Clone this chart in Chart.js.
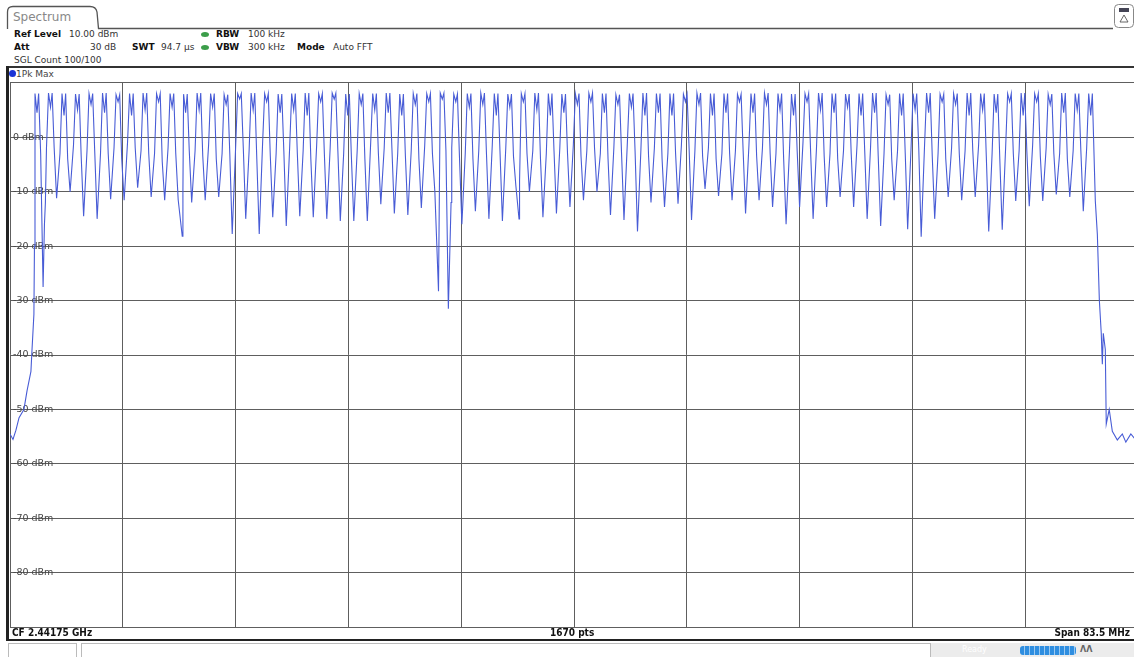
<!DOCTYPE html>
<html>
<head>
<meta charset="utf-8">
<script src="https://cdn.jsdelivr.net/npm/chart.js@4.4.1/dist/chart.umd.min.js"></script>
<style>
  html, body { margin: 0; padding: 0; background: #fff; overflow: hidden; width: 1134px; height: 657px; }
  body { position: relative; font-family: "DejaVu Sans", Verdana, sans-serif; }
  .t { position: absolute; font-size: 9px; line-height: 12px; color: #333; white-space: nowrap; }
  .b { font-weight: bold; color: #111; }
  .hl { position: absolute; background: #333; }
  .dot { position: absolute; width: 8px; height: 5px; border-radius: 50%; background: #3c9e4a; }
  .foot { position: absolute; font-family: "Liberation Sans Narrow", "DejaVu Sans Condensed", "Arial Narrow", sans-serif;
          font-stretch: condensed; font-weight: bold; font-size: 10px; line-height: 12px; color: #111; white-space: nowrap; }
  #wrap { position: absolute; left: 1px; top: 74px; width: 1140px; height: 562px; }
</style>
</head>
<body>

<!-- Reiter "Spectrum" -->
<svg style="position:absolute;left:0;top:0" width="1134" height="30">
  <path d="M7.5 29 L7.5 12 Q7.5 6.5 13 6.5 L90 6.5 Q96 6.5 97 12 L98.5 28.5 L1113 28.5" fill="none" stroke="#555" stroke-width="1.3"/>
  <rect x="1114.5" y="4.5" width="19" height="23" rx="4" fill="#fff" stroke="#888" stroke-width="1"/>
  <rect x="1119" y="8" width="10" height="4" fill="#445"/>
  <path d="M1124 15 L1128 22 L1120 22 Z" fill="none" stroke="#555" stroke-width="0.9"/>
</svg>
<div class="t" style="left:13px;top:10px;font-size:12px;line-height:15px;color:#888">Spectrum</div>

<!-- Einstellungen -->
<div class="t b" style="left:14px;top:28px">Ref Level</div>
<div class="t" style="left:69px;top:28px">10.00 dBm</div>
<div class="dot" style="left:201px;top:32px"></div>
<div class="t b" style="left:216px;top:28px">RBW</div>
<div class="t" style="left:248px;top:28px">100 kHz</div>

<div class="t b" style="left:14px;top:41px">Att</div>
<div class="t" style="left:90px;top:41px">30 dB</div>
<div class="t b" style="left:132px;top:41px">SWT</div>
<div class="t" style="left:161px;top:41px">94.7 µs</div>
<div class="dot" style="left:201px;top:45px"></div>
<div class="t b" style="left:216px;top:41px">VBW</div>
<div class="t" style="left:248px;top:41px">300 kHz</div>
<div class="t b" style="left:297px;top:41px">Mode</div>
<div class="t" style="left:333px;top:41px">Auto FFT</div>

<div class="t" style="left:14px;top:54px">SGL Count 100/100</div>

<div class="hl" style="left:7px;top:66px;width:1127px;height:1.5px"></div>
<div style="position:absolute;left:9px;top:70px;width:7px;height:7px;border-radius:50%;background:#1a33d6"></div>
<div class="t" style="left:16px;top:68px;color:#444">1Pk Max</div>

<div id="wrap"><canvas id="spectrum" width="1140" height="562"></canvas></div>

<!-- Rahmen -->
<div class="hl" style="left:6px;top:66px;width:3px;height:575px;background:#222"></div>
<div class="foot" style="left:12px;top:627px">CF 2.44175 GHz</div>
<div class="foot" style="left:550px;top:627px">1670 pts</div>
<div class="foot" style="right:4px;top:627px">Span 83.5 MHz</div>
<div class="hl" style="left:6px;top:639px;width:1128px;height:2px;background:#222"></div>

<!-- Statuszeile -->
<div style="position:absolute;left:8px;top:643px;width:67px;height:16px;border:1px solid #bbb;border-bottom:none"></div>
<div style="position:absolute;left:81px;top:643px;width:848px;height:16px;border:1px solid #bbb;border-bottom:none"></div>
<div style="position:absolute;left:931px;top:643px;width:203px;height:14px;background:#ececec"></div>
<div class="t" style="left:962px;top:644px;color:#fff;font-size:8px">Ready</div>
<div style="position:absolute;left:1020px;top:646px;width:56px;height:9px;border-radius:3px;
     background:repeating-linear-gradient(90deg,#2f8ee0 0 4px,#9cc9f0 4px 5px)"></div>
<div class="t b" style="left:1080px;top:644px;font-size:8px;color:#666">ΛΛ</div>

<script>
// Kanalmitten (MHz), Spitzen, Schultern, Einbrueche zwischen den Kanaelen
const channelMHz = [
  2402, 2403, 2404, 2405, 2406, 2407, 2408, 2409, 2410, 2411,
  2412, 2413, 2414, 2415, 2416, 2417, 2418, 2419, 2420, 2421,
  2422, 2423, 2424, 2425, 2426, 2427, 2428, 2429, 2430, 2431,
  2432, 2433, 2434, 2435, 2436, 2437, 2438, 2439, 2440, 2441,
  2442, 2443, 2444, 2445, 2446, 2447, 2448, 2449, 2450, 2451,
  2452, 2453, 2454, 2455, 2456, 2457, 2458, 2459, 2460, 2461,
  2462, 2463, 2464, 2465, 2466, 2467, 2468, 2469, 2470, 2471,
  2472, 2473, 2474, 2475, 2476, 2477, 2478, 2479, 2480
];
const peakDbm = [
  8.0, 8.1, 8.0, 7.9, 8.0, 8.1, 7.8, 8.0, 8.1, 8.0,
  8.0, 7.9, 8.1, 8.0, 7.8, 8.0, 8.1, 8.0, 7.9, 8.0,
  8.1, 8.0, 8.1, 7.9, 8.0, 8.0, 8.1, 7.9, 8.0, 8.0,
  8.1, 7.9, 8.0, 8.1, 8.0, 7.9, 8.0, 8.1, 8.0, 7.9,
  8.0, 8.1, 8.0, 7.8, 8.0, 8.1, 8.0, 8.0, 7.9, 8.1,
  8.0, 8.0, 7.9, 8.0, 8.1, 8.0, 7.9, 8.0, 8.1, 8.0,
  7.9, 8.0, 8.1, 7.8, 8.0, 8.0, 8.1, 7.9, 8.0, 8.1,
  8.0, 7.9, 8.0, 8.1, 8.0, 7.9, 8.1, 8.0, 8.0
];
const notchDbm = [
  4.5, 5.5, 4.0, 5.0, 6.0, 4.5, 6.5, 4.0, 5.0, 6.5,
  5.5, 4.5, 5.0, 5.5, 6.0, 7.0, 5.0, 6.5, 4.5, 5.0,
  4.0, 6.5, 7.0, 4.0, 6.0, 5.0, 4.5, 4.0, 6.0, 6.5,
  7.0, 6.5, 5.5, 6.0, 4.0, 5.5, 6.5, 5.0, 4.0, 4.5,
  6.0, 6.5, 4.5, 6.0, 5.5, 4.0, 4.5, 4.0, 6.5, 6.0,
  4.0, 4.5, 6.5, 4.5, 6.0, 5.0, 4.0, 6.5, 5.0, 4.5,
  5.5, 4.0, 4.5, 6.0, 4.0, 5.0, 4.5, 6.5, 6.0, 4.0,
  5.0, 4.5, 6.5, 4.0, 6.5, 6.0, 4.5, 5.0, 4.0
];
// Schulter an der steigenden Flanke (null = keine)
const riseDbm = [
  null, -2.0, -3.0, -1.5, -2.5, -3.0, -2.0, -1.0, -2.5, -3.0,
  -2.0, null, -2.5, -1.5, -3.0, -2.0, -2.5, -1.0, -3.0, -2.0,
  -2.5, -1.5, -2.0, -3.0, -2.5, -1.0, -2.0, -3.0, -2.5, -1.5,
  null, -2.0, -3.0, -2.5, -1.5, -2.0, null, -2.5, -3.0, -2.0,
  -1.5, -2.5, -3.0, -2.0, -1.0, -2.5, -2.0, -3.0, -1.5, -2.5,
  -2.0, -3.0, -2.5, -1.5, -2.0, -3.0, -2.5, -1.0, -2.0, -3.0,
  -2.5, -1.5, -2.0, -3.0, -2.5, -2.0, -1.5, -3.0, -2.0, -2.5,
  -1.5, -3.0, -2.0, -2.5, -1.5, -2.0, -3.0, -2.5, -2.0
];
// Schulter an der fallenden Flanke
const fallDbm = [
  -3.0, -2.0, -4.0, -3.5, -2.5, -3.0, -4.0, -2.0, -3.0, -4.5,
  -3.0, -2.5, -3.5, -4.0, -3.0, -2.0, -4.0, -3.5, -2.5, -3.0,
  -4.0, -3.0, -2.5, -3.5, -4.0, -3.0, -2.0, -3.5, -4.0, -3.0,
  -2.5, -3.5, -4.0, -3.0, -2.5, -3.5, -3.0, -4.0, -2.5, -3.0,
  -3.5, -2.0, -4.0, -3.0, -2.5, -3.5, -4.0, -3.0, -2.0, -3.5,
  -4.0, -3.0, -2.5, -3.5, -3.0, -4.0, -2.5, -3.0, -3.5, -4.0,
  -3.0, -2.5, -3.5, -4.0, -3.0, -2.0, -3.5, -4.0, -3.0, -2.5,
  -3.5, -4.0, -3.0, -2.5, -3.5, -3.0, -4.0, -2.5, null
];
// Einbruch rechts neben jedem Kanal (2402 ... 2479)
const dipDbm = [
  -27.5, -11.2, -10.0, -14.5, -15.0, -11.4, -11.6, -9.3, -11.0, -11.6,
  -11.5, -12.0, -11.6, -11.0, -17.8, -15.0, -17.8, -14.7, -16.3, -14.5,
  -14.7, -15.0, -15.4, -15.4, -15.4, -12.3, -14.0, -14.3, -13.0, -10.0,
  -31.5, -16.0, -13.6, -15.0, -15.4, -9.0, -10.0, -14.7, -14.0, -12.8,
  -11.6, -10.0, -14.3, -15.2, -17.3, -12.0, -12.8, -12.2, -15.2, -9.5,
  -10.8, -11.6, -14.0, -11.6, -12.8, -16.0, -12.8, -15.0, -12.8, -11.0,
  -12.8, -15.0, -16.3, -11.6, -16.9, -18.3, -15.0, -11.0, -11.6, -11.0,
  -17.3, -17.0, -11.7, -12.7, -11.7, -10.5, -11.0, -13.6
];
// Bandraender und einzelne Ausreisser
const extraMHz = [
  2400.00, 2400.22, 2400.44, 2400.67, 2401.03, 2401.26, 2401.55, 2401.63, 2401.77, 2401.81,
  2402.55, 2402.62, 2412.75, 2412.80, 2431.72, 2432.65, 2437.68, 2437.72,
  2480.34, 2480.49, 2480.64, 2480.78, 2480.86, 2480.93, 2481.08, 2481.15, 2481.37, 2481.60,
  2481.97, 2482.34, 2482.60, 2482.97, 2483.30, 2483.50
];
const extraDbm = [
  -54.5, -55.5, -53.8, -51.5, -50.0, -46.6, -43.0, -39.0, -32.5, -20.0,
  -16.0, -12.0, -18.2, -10.0, -28.3, -12.0, -15.0, -8.0,
  -11.7, -17.8, -30.0, -36.0, -41.7, -36.0, -39.0, -52.7, -50.0, -54.0,
  -55.6, -54.5, -56.0, -54.5, -55.5, -55.0
];
const levelTicks = [10, 0, -10, -20, -30, -40, -50, -60, -70, -80, -90];
const startMHz = 2400;
const spanMHz = 83.5;

const trace = [];
channelMHz.forEach((f, i) => {
  if (riseDbm[i] !== null) trace.push({ x: f - 0.3, y: riseDbm[i] });
  trace.push({ x: f - 0.15, y: peakDbm[i] });
  trace.push({ x: f, y: notchDbm[i] });
  trace.push({ x: f + 0.12, y: peakDbm[i] });
  if (fallDbm[i] !== null) trace.push({ x: f + 0.27, y: fallDbm[i] });
  if (i < dipDbm.length) trace.push({ x: f + 0.45, y: dipDbm[i] });
});
extraMHz.forEach((f, i) => trace.push({ x: f, y: extraDbm[i] }));
trace.sort((a, b) => a.x - b.x);

const gridColor = "#5e5e5e";

new Chart(document.getElementById("spectrum"), {
  type: "line",
  data: {
    datasets: [{
      label: "1Pk Max",
      data: trace,
      borderColor: "rgb(72, 92, 214)",
      borderWidth: 1.1,
      pointRadius: 0,
      tension: 0,
      fill: false,
    }],
  },
  options: {
    responsive: false,
    animation: false,
    layout: { padding: { left: 3, top: 2, right: 3, bottom: 0 } },
    plugins: { legend: { display: false }, tooltip: { enabled: false } },
    scales: {
      x: {
        type: "linear",
        min: startMHz,
        max: startMHz + spanMHz,
        afterBuildTicks: (axis) => {
          const ticks = [];
          for (let i = 0; i <= 10; i++) ticks.push({ value: startMHz + (spanMHz / 10) * i });
          axis.ticks = ticks;
        },
        ticks: { display: false },
        grid: { color: gridColor, lineWidth: 1, drawTicks: false },
        border: { display: false },
      },
      y: {
        min: -90,
        max: 10,
        afterBuildTicks: (axis) => {
          axis.ticks = levelTicks.map((v) => ({ value: v }));
        },
        ticks: {
          mirror: true,
          padding: 3,
          color: "#444",
          font: { family: "DejaVu Sans", size: 9.5 },
          callback: (v) => (v === 10 || v === -90 ? "" : v + " dBm"),
        },
        grid: { color: gridColor, lineWidth: 1, drawTicks: false },
        border: { display: false },
      },
    },
  },
});
</script>
</body>
</html>
